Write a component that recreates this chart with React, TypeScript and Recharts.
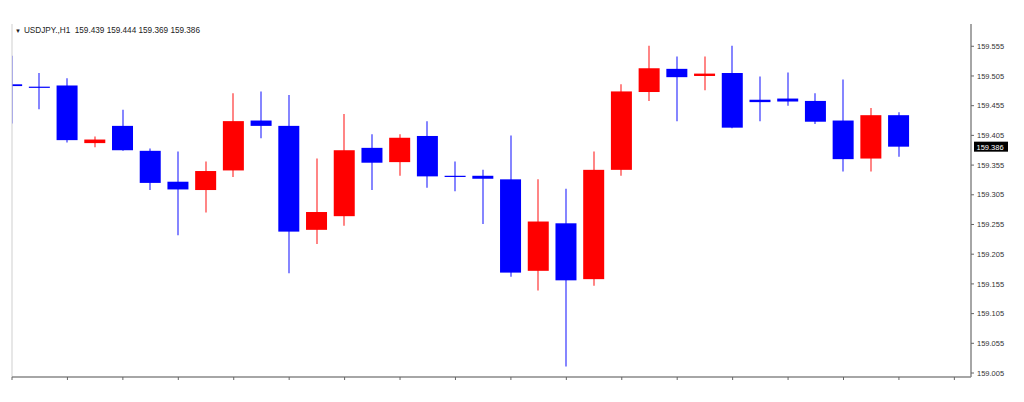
import React from 'react';
import { ComposedChart, Bar, XAxis, YAxis, ReferenceLine } from 'recharts';

const hours = [1, 2, 3, 4, 5, 6, 7, 8, 9, 10, 11, 12, 13, 14, 15, 16, 17, 18, 19, 20, 21, 22, 23, 24, 25, 26, 27, 28, 29, 30, 31, 32, 33];
const opens = [159.491, 159.487, 159.489, 159.392, 159.421, 159.379, 159.327, 159.313, 159.346, 159.430, 159.421, 159.246, 159.269, 159.384, 159.360, 159.404, 159.337, 159.337, 159.331, 159.177, 159.257, 159.163, 159.347, 159.478, 159.517, 159.505, 159.510, 159.465, 159.467, 159.463, 159.430, 159.366, 159.439];
const highs = [159.539, 159.510, 159.501, 159.403, 159.448, 159.383, 159.378, 159.361, 159.476, 159.479, 159.473, 159.366, 159.441, 159.407, 159.407, 159.429, 159.361, 159.347, 159.405, 159.331, 159.315, 159.378, 159.491, 159.556, 159.538, 159.538, 159.556, 159.504, 159.511, 159.476, 159.499, 159.451, 159.444];
const lows = [159.425, 159.449, 159.393, 159.385, 159.379, 159.313, 159.237, 159.275, 159.335, 159.400, 159.173, 159.222, 159.253, 159.313, 159.337, 159.317, 159.311, 159.256, 159.167, 159.144, 159.016, 159.152, 159.337, 159.463, 159.429, 159.481, 159.417, 159.429, 159.455, 159.424, 159.344, 159.344, 159.369];
const closes = [159.488, 159.486, 159.397, 159.398, 159.380, 159.325, 159.314, 159.345, 159.429, 159.421, 159.243, 159.276, 159.380, 159.359, 159.401, 159.336, 159.336, 159.332, 159.174, 159.260, 159.161, 159.347, 159.479, 159.518, 159.503, 159.509, 159.418, 159.461, 159.462, 159.428, 159.365, 159.439, 159.386];
const priceTicks = [159.005, 159.055, 159.105, 159.155, 159.205, 159.255, 159.305, 159.355, 159.405, 159.455, 159.505, 159.555];
const hourTicks = [1, 3, 5, 7, 9, 11, 13, 15, 17, 19, 21, 23, 25, 27, 29, 31, 33, 35];
const lastPrice = 159.386;
const headerText = 'USDJPY.,H1  159.439 159.444 159.369 159.386';

const data = hours.map((h, k) => ({
  h,
  o: opens[k],
  hi: highs[k],
  lo: lows[k],
  c: closes[k],
  range: [lows[k], highs[k]],
}));

const Candle = (props: any) => {
  const { x, y, width, height, payload } = props;
  if (x == null || y == null || !payload) return <g />;
  const top = Math.min(y, y + height);
  const h = Math.abs(height);
  const { o, c, hi, lo } = payload;
  const ppu = h / (hi - lo);
  const cx = Math.round(x + width / 2);
  const bodyTop = top + (hi - Math.max(o, c)) * ppu;
  const bodyBot = top + (hi - Math.min(o, c)) * ppu;
  const color = c >= o ? '#ff0000' : '#0000ff';
  return (
    <g>
      <line x1={cx} x2={cx} y1={top} y2={top + h} stroke={color} strokeWidth={1.2} strokeOpacity={0.8} />
      <rect x={x} y={bodyTop} width={width} height={Math.max(1.2, bodyBot - bodyTop)} fill={color} />
    </g>
  );
};

const NoTick = () => <g />;

const PriceTag = (p: any) => {
  const vb = p.viewBox || {};
  const x0 = (vb.x || 0) + (vb.width || 0) + 3;
  const y0 = vb.y || 0;
  return (
    <g>
      <rect x={x0} y={y0 - 5} width={34} height={10} fill="#000" />
      <text x={x0 + 2.5} y={y0 + 3} fill="#fff" fontSize={7.5} fontFamily="Liberation Sans, Arial, sans-serif">
        {lastPrice.toFixed(3)}
      </text>
    </g>
  );
};

export default function App() {
  return (
    <div style={{ position: 'absolute', left: 0, top: 0, width: 1024, height: 402, background: '#fff' }}>
      <ComposedChart
        width={1024}
        height={402}
        data={data}
        margin={{ top: 24, right: 0, bottom: 0, left: 12 }}
      >
        <XAxis
          dataKey="h"
          type="number"
          domain={[1, 35.6]}
          ticks={hourTicks}
          allowDataOverflow
          height={25}
          tickSize={3}
          tick={NoTick}
          axisLine={{ stroke: '#888', strokeWidth: 1.5 }}
          tickLine={{ stroke: '#666' }}
        />
        <XAxis
          xAxisId="top"
          orientation="top"
          dataKey="h"
          type="number"
          domain={[1, 35.6]}
          allowDataOverflow
          height={0}
          tick={false}
          tickLine={false}
          axisLine={{ stroke: '#888', strokeWidth: 1.5 }}
        />
        <YAxis
          orientation="right"
          type="number"
          domain={[158.99827, 159.5925]}
          allowDataOverflow
          ticks={priceTicks}
          width={53}
          tickSize={3}
          tickMargin={3}
          interval={0}
          axisLine={{ stroke: '#888', strokeWidth: 1.5 }}
          tickLine={{ stroke: '#666' }}
          tick={{ fontSize: 7.5, fill: '#333', fontFamily: 'Liberation Sans, Arial, sans-serif' }}
          tickFormatter={(v: number) => v.toFixed(3)}
        />
        <ReferenceLine x={1} stroke="#cfcfcf" strokeWidth={1} />
        <Bar dataKey="range" barSize={21} shape={<Candle />} isAnimationActive={false} />
        <ReferenceLine y={lastPrice} stroke="none" strokeOpacity={0} ifOverflow="visible" label={<PriceTag />} />
      </ComposedChart>
      <div
        style={{
          position: 'absolute',
          left: 15,
          top: 26,
          fontFamily: 'Liberation Sans, Arial, sans-serif',
          fontSize: 8.2,
          color: '#222',
          whiteSpace: 'pre',
          lineHeight: '9px',
        }}
      >
        <span style={{ fontSize: 6, marginRight: 3 }}>▼</span>
        {headerText}
      </div>
    </div>
  );
}
